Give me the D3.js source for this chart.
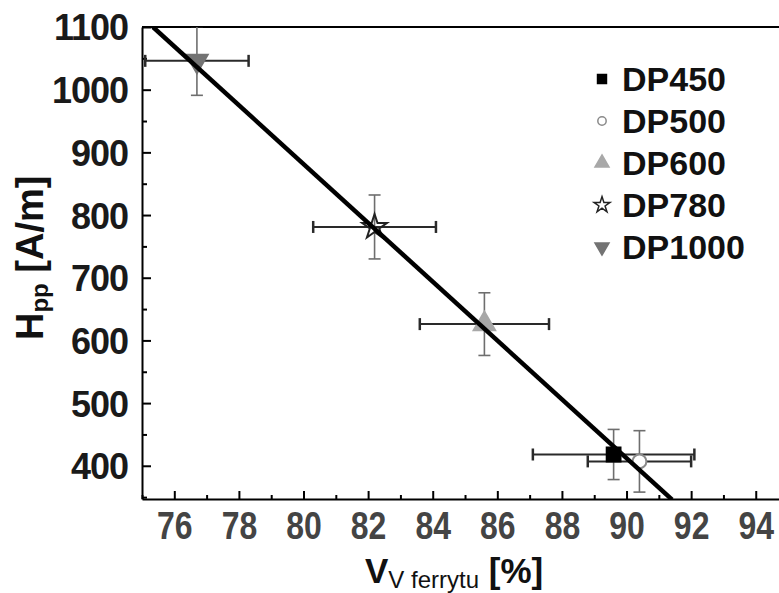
<!DOCTYPE html>
<html>
<head>
<meta charset="utf-8">
<script src="https://cdn.jsdelivr.net/npm/d3@7"></script>
<style>
  body { margin: 0; background: #fff; }
  svg { display: block; }
</style>
</head>
<body>
<script>
const width = 779;
const height = 593;

// samples and measured values (x = V_V ferrytu %, y = Hpp A/m)
const names = ["DP450", "DP500", "DP600", "DP780", "DP1000"];
const vv = [89.6, 90.4, 85.6, 82.2, 76.7];
const vvErr = [2.5, 1.6, 2.0, 1.9, 1.6];
const hpp = [418, 407, 626, 781, 1046];
const hppErr = [40, 49, 50, 51, 55];

// fitted line end points
const fitX = [75.34, 91.41];
const fitY = [1100, 346];

const xTicks = [76, 78, 80, 82, 84, 86, 88, 90, 92, 94];
const xMinor = [75, 77, 79, 81, 83, 85, 87, 89, 91, 93];
const yTicks = [400, 500, 600, 700, 800, 900, 1000, 1100];
const yMinor = [350, 450, 550, 650, 750, 850, 950, 1050];

const margin = { top: 27, right: 0, bottom: 94, left: 142 };

const x = d3.scaleLinear().domain([75, 94.72]).range([margin.left, width]);
const y = d3.scaleLinear().domain([347, 1100]).range([height - margin.bottom, margin.top]);

const symbolType = [d3.symbolSquare, d3.symbolCircle, d3.symbolTriangle, d3.symbolStar, d3.symbolTriangle];
const fills = ["#000", "#fff", "#a8a8a8", "none", "#737373"];
const strokes = ["#000", "#8a8a8a", "#a8a8a8", "#222", "#737373"];
const rotations = [0, 0, 0, 0, 180];

const svg = d3.select('body')
    .append('svg')
    .attr('width', width)
    .attr('height', height)
    .style('font-family', 'Liberation Sans, Arial, sans-serif');

svg.append('defs').append('clipPath')
    .attr('id', 'plot-clip')
    .append('rect')
    .attr('x', margin.left)
    .attr('y', margin.top)
    .attr('width', width - margin.left)
    .attr('height', height - margin.bottom - margin.top);

// minor ticks
svg.append('g')
    .attr('transform', `translate(0,${y.range()[0]})`)
    .call(d3.axisBottom(x).tickValues(xMinor).tickSize(-4).tickFormat(''))
    .call(g => g.select('.domain').remove())
    .selectAll('line').attr('stroke', '#000').attr('stroke-width', 2);

svg.append('g')
    .attr('transform', `translate(${margin.left},0)`)
    .call(d3.axisLeft(y).tickValues(yMinor).tickSize(-5).tickFormat(''))
    .call(g => g.select('.domain').remove())
    .selectAll('line').attr('stroke', '#000').attr('stroke-width', 2);

// major axes
const xAxis = svg.append('g')
    .attr('transform', `translate(0,${y.range()[0]})`)
    .call(d3.axisBottom(x).tickValues(xTicks).tickSize(-8).tickSizeOuter(0).tickPadding(12).tickFormat(d3.format('d')));
xAxis.select('.domain').attr('stroke', '#000').attr('stroke-width', 2);
xAxis.selectAll('.tick line').attr('stroke', '#000').attr('stroke-width', 2);
xAxis.selectAll('.tick text')
    .attr('fill', '#444')
    .attr('transform', 'scale(0.82,1)')
    .style('font-weight', 'bold')
    .style('font-size', '39px');

const yAxis = svg.append('g')
    .attr('transform', `translate(${margin.left},0)`)
    .call(d3.axisLeft(y).tickValues(yTicks).tickSize(-9).tickSizeOuter(0).tickPadding(14).tickFormat(d3.format('d')));
yAxis.select('.domain').attr('stroke', '#000').attr('stroke-width', 2);
yAxis.selectAll('.tick line').attr('stroke', '#000').attr('stroke-width', 2);
yAxis.selectAll('.tick text')
    .attr('fill', '#1a1a1a')
    .attr('dy', '0.36em')
    .style('font-weight', 'bold')
    .style('font-size', '36px')
    .style('letter-spacing', '-1px');

// top frame line
svg.append('line')
    .attr('x1', margin.left).attr('x2', width)
    .attr('y1', y(1100)).attr('y2', y(1100))
    .attr('stroke', '#000').attr('stroke-width', 2);

const plot = svg.append('g').attr('clip-path', 'url(#plot-clip)');

const pts = names.map((n, i) => ({ name: n, i: i, x: vv[i], y: hpp[i], ex: vvErr[i], ey: hppErr[i] }));

// error bars
const hCap = 6, vCap = 6;
pts.forEach(d => {
    const g = plot.append('g');
    g.append('line')
        .attr('x1', x(d.x - d.ex)).attr('x2', x(d.x + d.ex))
        .attr('y1', y(d.y)).attr('y2', y(d.y))
        .attr('stroke', '#2a2a2a').attr('stroke-width', 2);
    [d.x - d.ex, d.x + d.ex].forEach(v => {
        g.append('line')
            .attr('x1', x(v)).attr('x2', x(v))
            .attr('y1', y(d.y) - hCap).attr('y2', y(d.y) + hCap)
            .attr('stroke', '#2a2a2a').attr('stroke-width', 2.5);
    });
    g.append('line')
        .attr('x1', x(d.x)).attr('x2', x(d.x))
        .attr('y1', y(d.y - d.ey)).attr('y2', y(d.y + d.ey))
        .attr('stroke', '#6e6e6e').attr('stroke-width', 1.6);
    [d.y - d.ey, d.y + d.ey].forEach(v => {
        g.append('line')
            .attr('x1', x(d.x) - vCap).attr('x2', x(d.x) + vCap)
            .attr('y1', y(v)).attr('y2', y(v))
            .attr('stroke', '#6e6e6e').attr('stroke-width', 1.6);
    });
});

// markers
const markerSize = [190, 150, 200, 190, 200];
plot.selectAll('path.marker')
    .data(pts)
    .enter().append('path')
    .attr('class', 'marker')
    .attr('d', d => d3.symbol().type(symbolType[d.i]).size(markerSize[d.i])())
    .attr('transform', d => `translate(${x(d.x)},${y(d.y)}) rotate(${rotations[d.i]})`)
    .attr('fill', d => fills[d.i])
    .attr('stroke', d => strokes[d.i])
    .attr('stroke-width', 2);

// fit line
plot.append('line')
    .attr('x1', x(fitX[0])).attr('y1', y(fitY[0]))
    .attr('x2', x(fitX[1])).attr('y2', y(fitY[1]))
    .attr('stroke', '#000')
    .attr('stroke-width', 4.5);

// legend
const legend = svg.append('g');
const legendSize = [80, 55, 85, 80, 85];
names.forEach((n, i) => {
    const base = 91 + i * 42;
    legend.append('path')
        .attr('d', d3.symbol().type(symbolType[i]).size(legendSize[i])())
        .attr('transform', `translate(602,${base - 12}) rotate(${rotations[i]})`)
        .attr('fill', fills[i])
        .attr('stroke', strokes[i])
        .attr('stroke-width', 1.5);
    legend.append('text')
        .attr('x', 622)
        .attr('y', base)
        .attr('fill', '#111')
        .style('font-weight', 'bold')
        .style('font-size', '34px')
        .text(n);
});

// axis titles
const yTitle = svg.append('text')
    .attr('transform', 'translate(43,340) rotate(-90)')
    .attr('fill', '#111')
    .style('font-weight', 'bold')
    .style('font-size', '38px');
yTitle.append('tspan').text('H');
yTitle.append('tspan').attr('dy', 5).style('font-size', '24px').text('pp');
yTitle.append('tspan').attr('dy', -5).text(' [A/m]');

const xTitle = svg.append('text')
    .attr('x', 365)
    .attr('y', 583)
    .attr('fill', '#111')
    .style('font-weight', 'bold')
    .style('font-size', '35px');
xTitle.append('tspan').text('V');
xTitle.append('tspan').attr('dy', 5).style('font-size', '24px').style('font-weight', 'normal').text('V ferrytu');
xTitle.append('tspan').attr('dy', -5).text(' [%]');
</script>
</body>
</html>
